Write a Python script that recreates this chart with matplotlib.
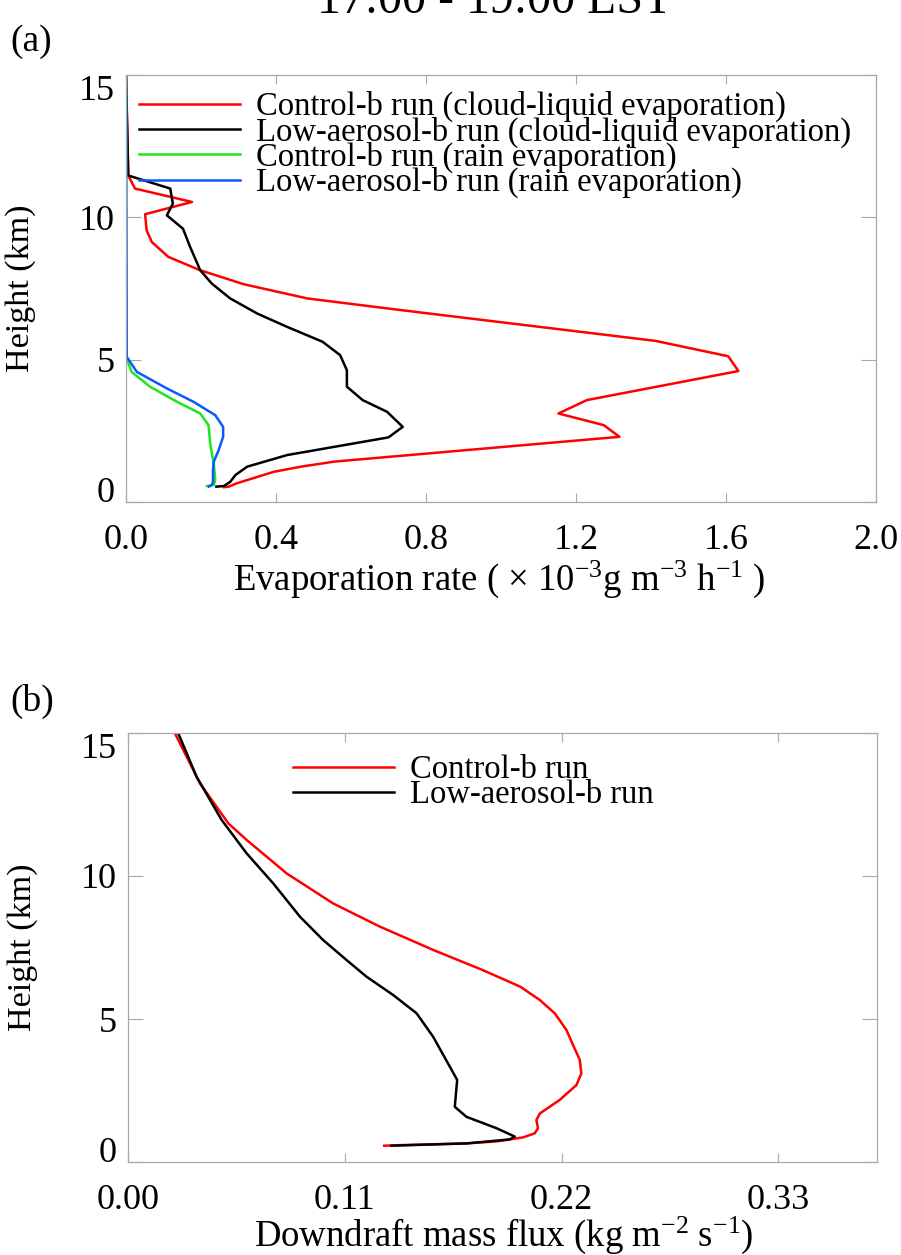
import matplotlib
matplotlib.use("Agg")
import matplotlib.pyplot as plt

plt.rcParams['font.family'] = ['Liberation Serif', 'DejaVu Serif']
plt.rcParams['mathtext.fontset'] = 'custom'
plt.rcParams['mathtext.rm'] = 'Liberation Serif'
plt.rcParams['mathtext.default'] = 'regular'

# ---- panel (a): evaporation rate (x 1e-3 g m-3 h-1) vs height (km)
ctl_cl_h = [15.0, 11.47, 11.01, 10.54, 10.11, 9.54, 9.13, 8.61, 8.14, 7.65, 7.15, 6.74,
            5.66, 5.12, 4.60, 3.58, 3.11, 2.70, 2.29, 1.42, 1.24, 1.06, 0.66, 0.54, 0.52]
ctl_cl_x = [0.0, 0.006, 0.024, 0.176, 0.051, 0.055, 0.069, 0.113, 0.198, 0.314, 0.484, 0.734,
            1.412, 1.606, 1.633, 1.229, 1.153, 1.274, 1.316, 0.556, 0.466, 0.394, 0.296, 0.274, 0.261]

low_cl_h = [15.0, 11.47, 11.01, 10.48, 10.07, 9.60, 8.96, 8.14, 7.67, 7.15, 6.62, 6.15, 5.63,
            5.16, 4.63, 4.05, 3.58, 3.17, 2.64, 2.27, 1.65, 1.24, 0.95, 0.71, 0.56, 0.54]
low_cl_x = [0.0, 0.006, 0.118, 0.125, 0.109, 0.152, 0.171, 0.198, 0.229, 0.278, 0.350, 0.430, 0.524,
            0.571, 0.589, 0.589, 0.631, 0.696, 0.738, 0.700, 0.430, 0.323, 0.292, 0.278, 0.261, 0.241]

ctl_rn_h = [15.0, 5.10, 4.57, 4.05, 3.52, 3.11, 2.70, 2.00, 1.36, 0.77, 0.60, 0.56]
ctl_rn_x = [0.0, 0.0, 0.015, 0.064, 0.136, 0.198, 0.220, 0.225, 0.234, 0.238, 0.234, 0.216]

low_rn_h = [15.0, 5.10, 4.57, 3.99, 3.52, 3.05, 2.64, 2.29, 1.82, 1.41, 1.12, 0.71, 0.60, 0.54]
low_rn_x = [0.0, 0.002, 0.029, 0.109, 0.180, 0.238, 0.259, 0.259, 0.247, 0.234, 0.232, 0.232, 0.229, 0.221]

# ---- panel (b): downdraft mass flux (kg m-2 s-1) vs height (km)
ctl_mf_h = [14.99, 13.24, 11.84, 11.26, 10.09, 9.04, 8.23, 7.41, 6.71, 6.13, 5.66, 5.20, 4.62,
            4.09, 3.57, 3.10, 2.69, 2.17, 1.70, 1.47, 1.18, 1.00, 0.86, 0.79, 0.72, 0.65, 0.59, 0.57]
ctl_mf_x = [0.0238, 0.0365, 0.0509, 0.0602, 0.0805, 0.1041, 0.1278, 0.155, 0.180, 0.199, 0.209, 0.2165, 0.2224,
            0.2258, 0.2292, 0.230, 0.2275, 0.219, 0.209, 0.2072, 0.208, 0.2063, 0.2004, 0.1937, 0.187, 0.1717, 0.1379, 0.130]

low_mf_h = [14.99, 13.47, 11.96, 10.79, 9.74, 8.58, 7.76, 7.06, 6.48, 5.84, 5.20, 4.38, 3.33,
            2.87, 1.93, 1.58, 1.18, 0.89, 0.79, 0.65, 0.57]
low_mf_x = [0.0255, 0.0348, 0.0475, 0.0602, 0.0737, 0.0872, 0.099, 0.1109, 0.121, 0.1345, 0.1464, 0.1548, 0.1633,
            0.167, 0.1658, 0.1717, 0.187, 0.1962, 0.1937, 0.1717, 0.1337]

xticks_a = [0.0, 0.4, 0.8, 1.2, 1.6, 2.0]
xticks_b = [0.00, 0.11, 0.22, 0.33]
yticks = [0, 5, 10, 15]

labels_a = ['Control-b run (cloud-liquid evaporation)',
            'Low-aerosol-b run (cloud-liquid evaporation)',
            'Control-b run (rain evaporation)',
            'Low-aerosol-b run (rain evaporation)']
labels_b = ['Control-b run', 'Low-aerosol-b run']

W, H = 901, 1255
fig = plt.figure(figsize=(W / 100, H / 100), dpi=100)

ax1 = fig.add_axes([126 / W, 1 - 502 / H, 750 / W, 427 / H])
ax2 = fig.add_axes([128 / W, 1 - 1162 / H, 749 / W, 429 / H])

lw = 1.8
ax1.plot(ctl_cl_x, ctl_cl_h, color='#ff0000', lw=lw, label=labels_a[0])
ax1.plot(low_cl_x, low_cl_h, color='black', lw=lw, label=labels_a[1])
ax1.plot(ctl_rn_x, ctl_rn_h, color='#1ee61e', lw=lw, label=labels_a[2])
ax1.plot(low_rn_x, low_rn_h, color='#0a5aff', lw=lw, label=labels_a[3])

ax2.plot(ctl_mf_x, ctl_mf_h, color='#ff0000', lw=lw, label=labels_b[0])
ax2.plot(low_mf_x, low_mf_h, color='black', lw=lw, label=labels_b[1])

ax1.set_xlim(0, 2.0)
ax2.set_xlim(0, 0.38)
ax1.set_xticks(xticks_a)
ax1.set_xticklabels(['%.1f' % v for v in xticks_a])
ax2.set_xticks(xticks_b)
ax2.set_xticklabels(['%.2f' % v for v in xticks_b])

for ax in (ax1, ax2):
    ax.set_ylim(0, 15)
    ax.set_yticks(yticks)
    ax.set_yticklabels([str(v) for v in yticks])
    for s in ax.spines.values():
        s.set_color('#a8a8a8')
        s.set_linewidth(0.9)
    ax.tick_params(axis='both', direction='in', top=True, right=True,
                   color='#a8a8a8', width=0.8, labelsize=26)
    ax.tick_params(axis='x', length=6.5, pad=16)
    ax.tick_params(axis='y', length=11, pad=8)
    ylabs = ax.get_yticklabels()
    ylabs[0].set_va('baseline')
    ylabs[-1].set_va('top')
    ax.set_ylabel('Height (km)', fontsize=24.5)
    ax.yaxis.set_label_coords(-0.12, 0.5)

ax1.set_xlabel('Evaporation rate ( × 10$^{-3}$g m$^{-3}$ h$^{-1}$ )', fontsize=26.5)
ax1.xaxis.set_label_coords(0.497, -0.18)
ax1.xaxis.label.set_va('center')
ax2.set_xlabel('Downdraft mass flux (kg m$^{-2}$ s$^{-1}$)', fontsize=26.5)
ax2.xaxis.set_label_coords(0.502, -0.172)
ax2.xaxis.label.set_va('center')

leg_kw = dict(frameon=False, fontsize=23.5, handlelength=3.1, handletextpad=0.5,
              labelspacing=-0.18, borderpad=0, borderaxespad=0, loc='upper left')
ax1.legend(bbox_to_anchor=(139 / W, 1 - 91 / H), bbox_transform=fig.transFigure, **leg_kw)
ax2.legend(bbox_to_anchor=(293 / W, 1 - 755 / H), bbox_transform=fig.transFigure, **leg_kw)

fig.text(495 / W, 1 - 13 / H, '17:00 - 19:00 LST', ha='center', va='baseline', fontsize=34.5)
fig.text(10 / W, 1 - 42 / H, '(a)', ha='left', va='center', fontsize=27)
fig.text(10 / W, 1 - 701 / H, '(b)', ha='left', va='center', fontsize=27)

fig.savefig('out.png', dpi=100)
